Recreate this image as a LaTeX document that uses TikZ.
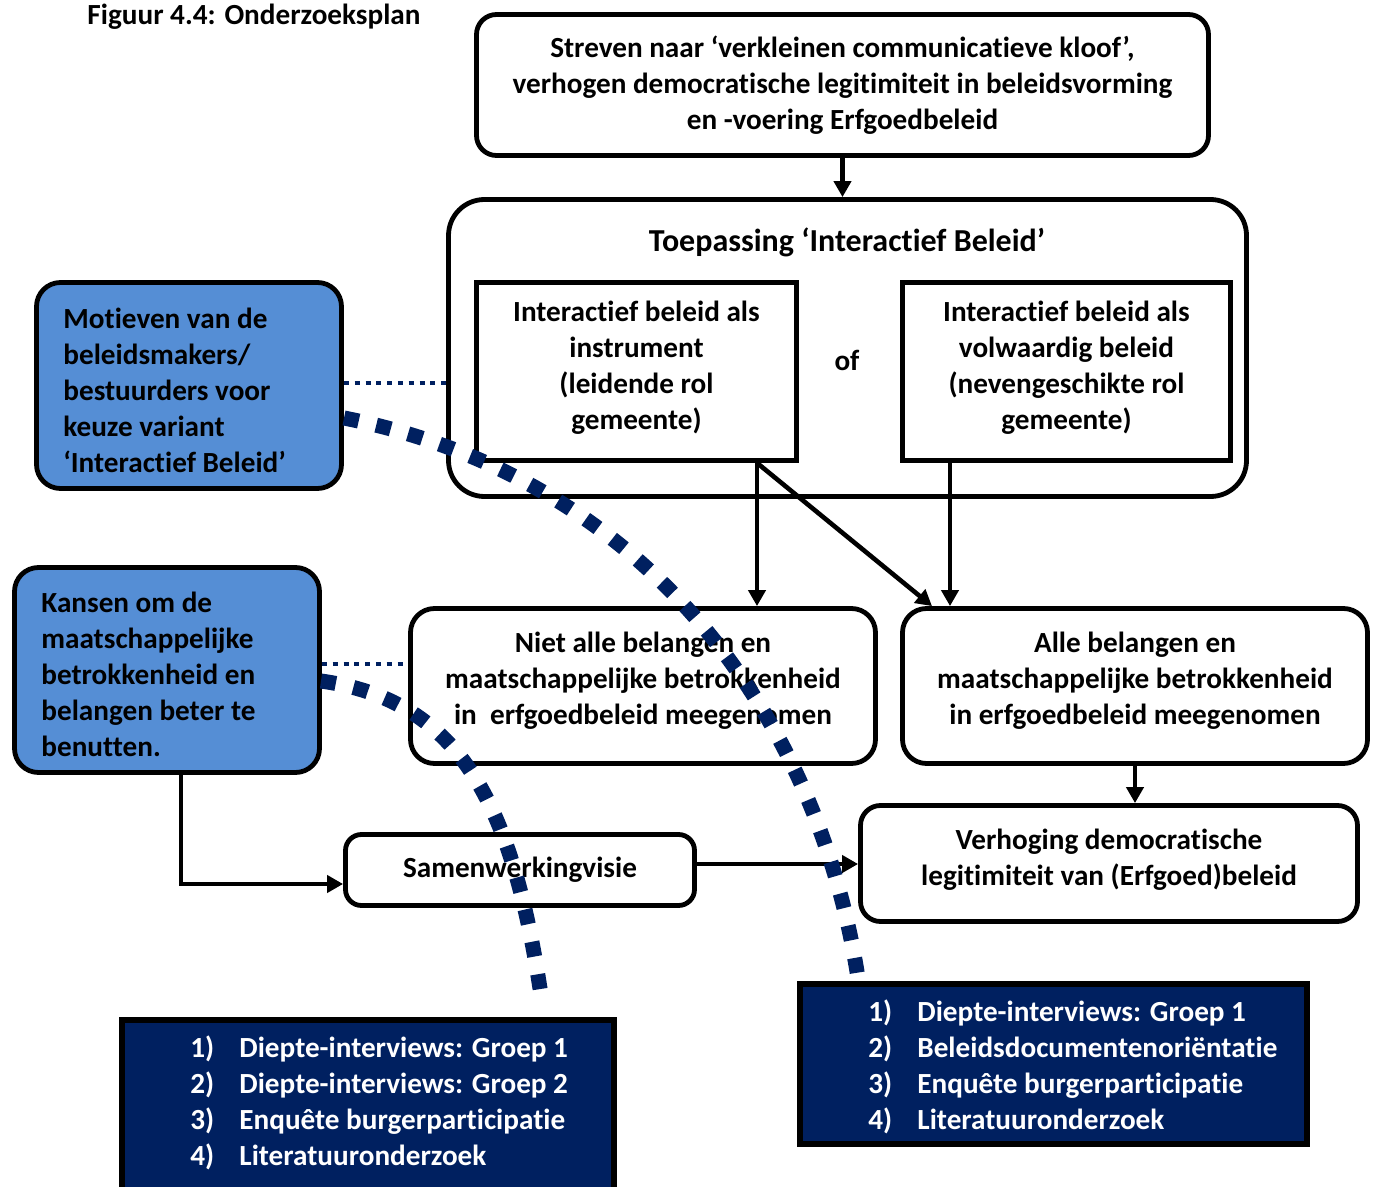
\documentclass[tikz,border=0pt]{standalone}
\usepackage{fontspec}
\setmainfont{Carlito}[Ligatures={TeX,NoCommon}]
\usetikzlibrary{arrows.meta}
\definecolor{navy}{RGB}{0,32,96}
\definecolor{skyfill}{RGB}{85,142,213}
\begin{document}
\begin{tikzpicture}[x=0.5pt,y=-0.5pt,
  every node/.style={font=\fontsize{14.6}{18}\selectfont\bfseries},
  box/.style={draw=black,line width=2.4pt,align=center,inner sep=0pt},
  boxtext/.style={align=center,inner sep=0pt},
  skybox/.style={draw=black,fill=skyfill,line width=2.4pt,rounded corners=12pt,inner sep=0pt},
  skytext/.style={align=left,inner sep=0pt,anchor=west},
  navybox/.style={draw=black,fill=navy,line width=3.2pt},
  navytext/.style={text=white,align=left,inner sep=0pt},
  arr/.style={line width=2.3pt,line join=miter,-{Triangle[length=8pt,width=8.5pt]}},
  thindot/.style={navy,line width=2.4pt,dash pattern=on 2.5pt off 2.9pt},
  bigdot/.style={navy,line width=7.5pt,dash pattern=on 7.5pt off 9pt}
]
\useasboundingbox (0,0) rectangle (1382,1187);
\clip (0,0) rectangle (1382,1187);

% heading
\node (title) at (254,17) {Figuur 4.4: Onderzoeksplan};

% goal
\node[box,rounded corners=10pt,minimum width=366pt,minimum height=70.5pt] (top) at (842.5,85)
  {Streven naar ‘verkleinen communicatieve kloof’,\\verhogen democratische legitimiteit in beleidsvorming\\en -voering Erfgoedbeleid};

% interactive policy frame
\node[box,rounded corners=18pt,minimum width=399pt,minimum height=148.5pt] (big) at (847.5,348) {};
\node[font=\fontsize{16}{19}\selectfont\bfseries] (toep) at (847,242) {Toepassing ‘Interactief Beleid’};
\node[box,minimum width=160pt,minimum height=89pt] (il) at (636.5,371.5) {};
\node[boxtext] (iltxt) at (636.5,367.5) {Interactief beleid als\\instrument\\(leidende rol\\gemeente)};
\node (of) at (847,360) {of};
\node[box,minimum width=164pt,minimum height=89pt] (ir) at (1066.5,371.5) {};
\node[boxtext] (irtxt) at (1066.5,367.5) {Interactief beleid als\\volwaardig beleid\\(nevengeschikte rol\\gemeente)};

% motives and opportunities
\node[skybox,minimum width=152.5pt,minimum height=103pt] (sky1) at (189,385.5) {};
\node[skytext] (sky1txt) at (63,390)
  {Motieven van de\\beleidsmakers/\\bestuurders voor\\keuze variant\\‘Interactief Beleid’};
\node[skybox,minimum width=152.5pt,minimum height=102.5pt] (sky2) at (167,670) {};
\node[skytext] (sky2txt) at (41,674.5)
  {Kansen om de\\maatschappelijke\\betrokkenheid en\\belangen beter te\\benutten.};

% outcomes
\node[box,rounded corners=12pt,minimum width=232.5pt,minimum height=77.5pt] (niet) at (643,686) {};
\node[boxtext] (niettxt) at (643,681)
  {Niet alle belangen en\\maatschappelijke betrokkenheid\\in\ \ erfgoedbeleid meegenomen};
\node[box,rounded corners=12pt,minimum width=232.5pt,minimum height=77.5pt] (alle) at (1135,686) {};
\node[boxtext] (alletxt) at (1135,681)
  {Alle belangen en\\maatschappelijke betrokkenheid\\in erfgoedbeleid meegenomen};
\node[box,rounded corners=10pt,minimum width=248.5pt,minimum height=58pt] (verh) at (1109,863.5) {};
\node[boxtext] (verhtxt) at (1109,859.5)
  {Verhoging democratische\\legitimiteit van (Erfgoed)beleid};
\node[box,rounded corners=8pt,minimum width=174.5pt,minimum height=35.5pt] (samen) at (520,870)
  {Samenwerkingvisie};

% research methods
\node[navybox,minimum width=246pt,minimum height=100pt] (navyL) at (368,1120) {};
\node[navytext,anchor=west] (listL) at (190,1103)
  {\makebox[24.5pt][l]{1)}Diepte-interviews: Groep 1\\
   \makebox[24.5pt][l]{2)}Diepte-interviews: Groep 2\\
   \makebox[24.5pt][l]{3)}Enquête burgerparticipatie\\
   \makebox[24.5pt][l]{4)}Literatuuronderzoek};
\node[navybox,minimum width=253.5pt,minimum height=80pt] (navyR) at (1053.5,1064) {};
\node[navytext,anchor=west] (listR) at (868,1066.5)
  {\makebox[24.5pt][l]{1)}Diepte-interviews: Groep 1\\
   \makebox[24.5pt][l]{2)}Beleidsdocumentenoriëntatie\\
   \makebox[24.5pt][l]{3)}Enquête burgerparticipatie\\
   \makebox[24.5pt][l]{4)}Literatuuronderzoek};

% guide coordinates
\coordinate (xa) at (757,0);
\coordinate (xb) at (950,0);
\coordinate (xc) at (932,0);
\coordinate (xd) at (181,0);
\coordinate (yd) at (0,884);
\coordinate (ye) at (0,864);
\coordinate (yf) at (0,383);
\coordinate (yg) at (0,664);
\coordinate (c1s) at (344,418);
\coordinate (c1e) at (858,978);
\coordinate (c2s) at (321,681);
\coordinate (c2e) at (541,995);

% arrows
\draw[arr] (top.south) -- (top.south |- big.north);
\draw[arr] (il.south -| xa) -- (niet.north -| xa);
\draw[arr] (il.south -| xa) -- (alle.north -| xc);
\draw[arr] (ir.south -| xb) -- (alle.north -| xb);
\draw[arr] (alle.south) -- (alle.south |- verh.north);
\draw[arr] (sky2.south -| xd) |- (samen.west |- yd);
\draw[arr] (samen.east |- ye) -- (verh.west |- ye);

% relations to the research methods
\draw[thindot] (sky1.east |- yf) -- (big.west |- yf);
\draw[thindot] (sky2.east |- yg) -- (niet.west |- yg);
\draw[bigdot] (c1s) .. controls (648,478) and (818,718) .. (c1e);
\draw[bigdot] (c2s) .. controls (455,700) and (511,795) .. (c2e);
\end{tikzpicture}
\end{document}
